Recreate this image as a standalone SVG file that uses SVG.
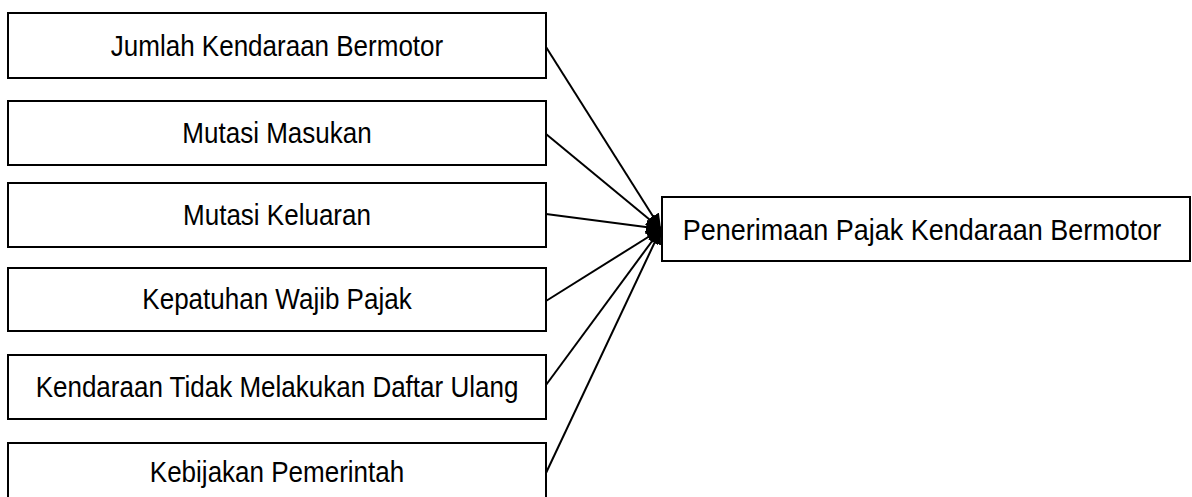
<svg xmlns="http://www.w3.org/2000/svg" width="1192" height="497" viewBox="0 0 1192 497">
  <style>
    .box { fill: #ffffff; stroke: #000000; stroke-width: 2; }
    .label { font-family: "Liberation Sans", Arial, sans-serif; font-size: 30px; fill: #000000; text-anchor: middle; }
    .link { stroke: #000000; stroke-width: 2; fill: none; marker-end: url(#head); }
  </style>
  <defs>
    <marker id="head" viewBox="0 0 15 14" refX="15" refY="7" markerWidth="15" markerHeight="14" markerUnits="userSpaceOnUse" orient="auto">
      <path d="M0,0 L15,7 L0,14 Z" fill="#000000"/>
    </marker>
  </defs>

  <rect width="1192" height="497" fill="#ffffff"/>

  <g id="connectors">
    <line class="link" x1="546" y1="47" x2="661" y2="229"/>
    <line class="link" x1="546" y1="134" x2="661" y2="229"/>
    <line class="link" x1="546" y1="214" x2="661" y2="229"/>
    <line class="link" x1="546" y1="301" x2="661" y2="229"/>
    <line class="link" x1="546" y1="385" x2="661" y2="229"/>
    <line class="link" x1="546" y1="473" x2="661" y2="229"/>
  </g>

  <!-- labels use a horizontally condensed sans face -->
  <g id="jumlah-kendaraan">
    <rect class="box" x="8" y="13" width="538" height="65"/>
    <text class="label" transform="translate(277,56) scale(0.867,1)">Jumlah Kendaraan Bermotor</text>
  </g>
  <g id="mutasi-masukan">
    <rect class="box" x="8" y="101" width="538" height="64"/>
    <text class="label" transform="translate(277,143) scale(0.867,1)">Mutasi Masukan</text>
  </g>
  <g id="mutasi-keluaran">
    <rect class="box" x="8" y="183" width="538" height="64"/>
    <text class="label" transform="translate(277,225) scale(0.867,1)">Mutasi Keluaran</text>
  </g>
  <g id="kepatuhan">
    <rect class="box" x="8" y="268" width="538" height="63"/>
    <text class="label" transform="translate(277,309) scale(0.867,1)">Kepatuhan Wajib Pajak</text>
  </g>
  <g id="tidak-daftar-ulang">
    <rect class="box" x="8" y="355" width="538" height="64"/>
    <text class="label" transform="translate(277,397) scale(0.867,1)">Kendaraan Tidak Melakukan Daftar Ulang</text>
  </g>
  <g id="kebijakan">
    <rect class="box" x="8" y="443" width="538" height="70"/>
    <text class="label" transform="translate(277,482) scale(0.867,1)">Kebijakan Pemerintah</text>
  </g>
  <g id="penerimaan-pajak">
    <rect class="box" x="662" y="197" width="528" height="64"/>
    <text class="label" transform="translate(922,240) scale(0.9,1)">Penerimaan Pajak Kendaraan Bermotor</text>
  </g>
</svg>
